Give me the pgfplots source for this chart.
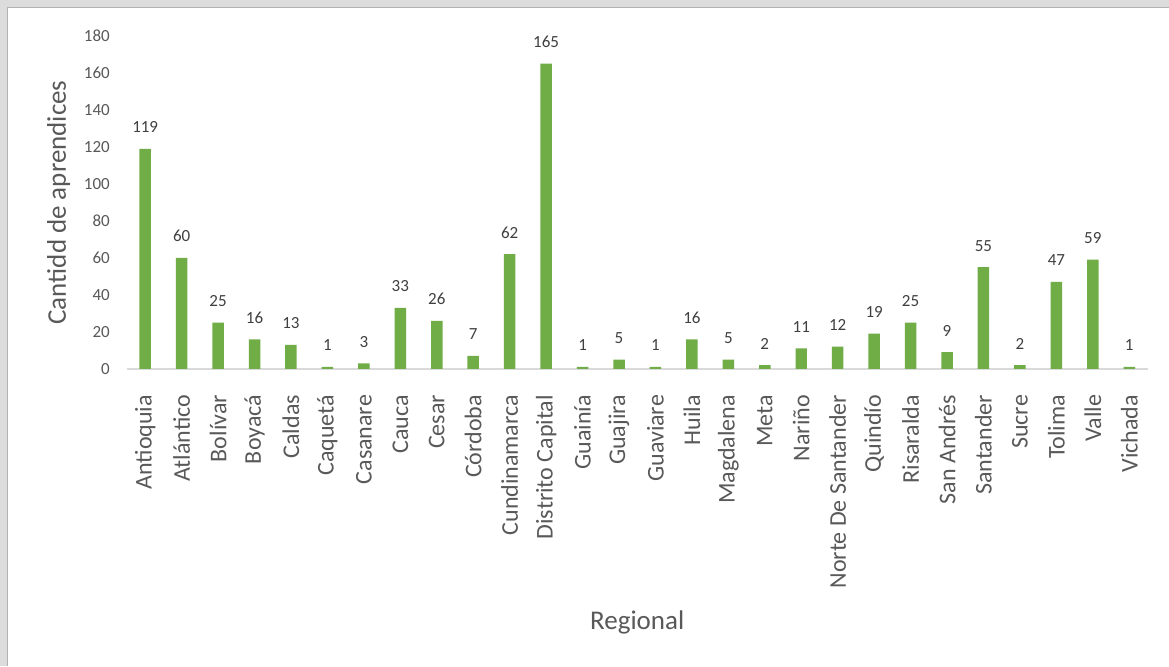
\documentclass[border=0pt]{standalone}
\usepackage{pgfplots}
\pgfplotsset{compat=1.18}
\usepackage{fontspec}
\setmainfont{Carlito}

\definecolor{barGreen}{HTML}{70AD47}
\definecolor{txtGrey}{HTML}{595959}
\definecolor{lblGrey}{HTML}{404040}
\definecolor{lineGrey}{HTML}{D9D9D9}
\definecolor{frameGrey}{HTML}{DCDCDC}

\begin{document}
\begin{tikzpicture}[x=1pt,y=1pt]
  % screenshot frame and white chart area
  \fill[frameGrey] (0,0) rectangle (1169,666);
  \fill[white] (7,0) rectangle (1169,658);
  \draw[gray!60, line width=1pt] (7.5,0) -- (7.5,658.5) -- (1169,658.5);

  \begin{axis}[
      at={(127pt,297pt)}, anchor=south west,
      scale only axis,
      width=1021pt, height=333pt,
      xmin=-0.5, xmax=27.5,
      ymin=0, ymax=180,
      axis x line=bottom, axis y line=left,
      x axis line style={draw=lineGrey, line width=2pt, -},
      y axis line style={draw=none},
      major tick length=0pt,
      ytick={0,20,...,180},
      xtick={0,...,27},
      xticklabels={Antioquia, Atlántico, Bolívar, Boyacá, Caldas, Caquetá,
        Casanare, Cauca, Cesar, Córdoba, Cundinamarca, Distrito Capital,
        Guainía, Guajira, Guaviare, Huila, Magdalena, Meta, Nariño,
        Norte De Santander, Quindío, Risaralda, San Andrés, Santander,
        Sucre, Tolima, Valle, Vichada},
      /pgf/number format/assume math mode=true,
      yticklabel style={font=\fontsize{17}{20}\selectfont, text=txtGrey,
        anchor=east, inner sep=0pt, xshift=-17pt},
      xticklabel style={font=\fontsize{24}{28}\selectfont, text=txtGrey,
        rotate=90, anchor=east, inner sep=0pt},
      xticklabel shift=26pt,
      ybar, bar width=11.5pt,
      nodes near coords,
      every node near coord/.append style={font=\fontsize{17}{20}\selectfont,
        text=lblGrey, anchor=base, inner sep=0pt, yshift=16pt},
      clip=false,
    ]
    \addplot[fill=barGreen, draw=none] coordinates {
      (0,119) (1,60) (2,25) (3,16) (4,13) (5,1) (6,3) (7,33) (8,26) (9,7)
      (10,62) (11,165) (12,1) (13,5) (14,1) (15,16) (16,5) (17,2) (18,11)
      (19,12) (20,19) (21,25) (22,9) (23,55) (24,2) (25,47) (26,59) (27,1)
    };
  \end{axis}

  % axis titles
  \node[rotate=90, anchor=base, text=txtGrey, font=\fontsize{27}{32}\selectfont]
    at (66,463.5) {Cantidd de aprendices};
  \node[anchor=base, text=txtGrey, font=\fontsize{27}{32}\selectfont]
    at (637.5,36) {Regional};
\end{tikzpicture}
\end{document}
